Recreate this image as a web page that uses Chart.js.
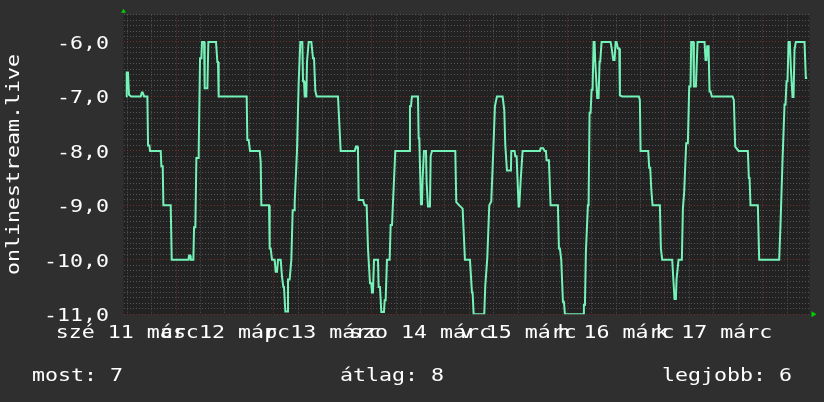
<!DOCTYPE html>
<html lang="hu">
<head>
<meta charset="utf-8">
<title>onlinestream.live</title>
<script src="https://cdn.jsdelivr.net/npm/chart.js@4.4.1/dist/chart.umd.min.js"></script>
<style>
  html, body { margin: 0; padding: 0; background: #2f2f2f; }
  canvas { display: block; }
</style>
</head>
<body>
<canvas id="graph" width="824" height="402"></canvas>
<script>
// Időpontok órában (márc. 11. 00:00-tól számolva)
const hours = [
    11.73, 11.89, 12.2, 12.45, 12.96, 15.33, 15.58, 15.82, 16.15, 16.96, 17.13, 17.45, 17.62,
    20.24, 20.4, 20.73, 20.89, 22.69, 22.94, 27.03, 27.19, 27.44, 27.6, 28.25, 28.42, 28.74,
    28.99, 29.4, 29.56, 29.89, 30.22, 30.38, 30.87, 31.03, 31.69, 31.93, 33.81, 34.14, 34.3,
    34.46, 41.34, 41.5, 41.83, 42.16,
    44.53, 44.78, 44.94, 46.82, 46.99, 47.23, 47.56, 48.21, 48.46, 48.79, 49.03, 49.69, 50.01,
    50.34, 50.5, 50.83, 51.32, 51.48, 51.89, 52.3, 52.63, 52.96, 53.12, 53.69, 54.1, 54.51,
    55.0, 55.17, 55.41, 55.58, 55.98, 56.15, 56.56, 57.21, 57.62, 57.87, 58.19, 58.52, 63.75,
    63.92, 64.41, 67.85, 68.17, 68.5, 68.66, 68.83, 69.89, 70.3, 70.79, 71.12, 71.61, 71.93,
    72.1, 72.34, 72.59, 73.57, 73.73, 74.06, 74.39, 75.04, 75.21, 75.45, 75.78, 76.43, 76.68,
    77.01, 77.82,
    81.26, 81.42, 81.67, 81.91, 83.39, 83.55, 83.71, 84.12, 84.37, 84.53, 84.86, 85.35, 85.51,
    85.84, 86.33, 86.5, 86.82, 92.55, 92.79, 93.53, 94.35, 94.92, 96.15, 96.64, 96.8, 97.05,
    99.66, 99.91, 100.07, 100.4, 100.89, 101.38, 101.87, 102.28, 102.77, 104.16, 104.57,
    104.82, 105.23, 106.21, 106.29, 107.11, 107.27, 107.6, 108.09, 108.25, 108.58, 109.07,
    113.33, 113.49, 114.14, 114.47, 114.8, 114.96, 115.53, 115.94, 117.74, 117.99, 118.23,
    118.56, 118.97, 119.21, 119.46, 123.96, 124.12, 124.37, 124.61, 125.1, 125.27, 125.51,
    125.76, 126.01, 126.25, 126.5, 126.74, 126.9, 127.07, 127.39, 127.72, 127.97, 128.13,
    128.46, 130.67, 130.91, 131.32, 131.65, 131.9, 132.14, 132.47, 132.79, 132.96, 133.53,
    137.62, 137.86, 138.03, 139.91, 140.15, 140.4, 140.65, 140.97, 142.77, 143.02, 143.34,
    145.8, 146.04, 146.2, 146.37, 146.7, 146.86, 147.35, 148.17, 148.42, 148.74, 148.91,
    149.23, 149.64, 149.97, 150.3, 150.46, 150.95, 151.12, 151.61, 152.02, 153.73, 153.98,
    154.22, 154.39, 154.72, 154.96, 155.21, 155.53, 160.61, 160.93, 161.26, 162.08, 164.37,
    164.61, 164.78, 165.02, 166.82, 167.15, 172.06, 172.38, 172.88, 173.37, 173.61, 173.86,
    174.1, 174.35, 174.67, 174.92, 175.33, 175.58, 175.82, 176.15, 178.28, 178.6, 178.93
];

const values = [
    -7.0, -6.56, -6.56, -6.97, -7.0, -7.0, -6.93, -6.93, -7.0, -7.0, -7.9, -7.9, -8.0,
    -8.0, -8.28, -8.28, -9.0, -9.0, -10.0, -10.0, -9.92, -9.92, -10.0, -10.0, -9.4, -9.4,
    -8.13, -8.13, -8.0, -6.3, -6.3, -6.0, -6.0, -6.85, -6.85, -6.0, -6.0, -6.37, -6.37,
    -7.0, -7.0, -7.8, -7.8, -8.0,
    -8.0, -8.2, -9.0, -9.0, -9.79, -9.79, -10.0, -10.0, -10.22, -10.22, -10.0, -10.0, -10.31,
    -10.5, -10.5, -10.95, -10.95, -10.36, -10.36, -10.0, -9.09, -9.09, -8.95, -8.0, -6.75, -6.0,
    -6.0, -6.72, -6.72, -7.0, -7.0, -6.36, -6.0, -6.0, -6.3, -6.3, -6.9, -7.0, -7.0,
    -7.25, -8.0, -8.0, -7.92, -7.92, -8.0, -8.9, -8.9, -9.0, -9.0, -9.8, -10.43, -10.43,
    -10.6, -10.6, -10.0, -10.0, -10.5, -10.5, -10.96, -10.96, -10.74, -10.74, -10.0, -10.0, -9.36,
    -9.36, -8.0,
    -8.0, -7.18, -7.18, -7.0, -7.0, -7.77, -7.77, -8.98, -8.98, -8.5, -8.0, -8.0, -8.58,
    -9.02, -9.02, -8.1, -8.0, -8.0, -8.94, -9.0, -9.06, -10.0, -10.0, -10.6, -10.6, -11.0,
    -11.0, -10.47, -10.47, -9.97, -9.0, -8.93, -8.0, -7.18, -7.0, -7.0, -7.25,
    -7.89, -8.36, -8.36, -8.0, -8.0, -8.1, -8.1, -9.02, -9.02, -8.56, -8.0,
    -8.0, -7.95, -7.95, -8.0, -8.0, -8.17, -8.17, -9.0, -9.0, -9.79, -9.79,
    -10.0, -10.77, -10.77, -11.0, -11.0, -10.83, -10.83, -9.85, -9.0, -9.0, -7.3,
    -7.3, -6.88, -6.88, -6.0, -6.0, -6.36, -6.36, -7.03, -7.03, -6.36, -6.36,
    -6.0, -6.0, -6.1, -6.33, -6.33, -6.0, -6.0, -6.12, -6.12, -6.98, -7.0,
    -7.0, -7.07, -8.0, -8.0, -8.31, -8.31, -8.69, -9.0, -9.0, -9.79, -10.0,
    -10.0, -10.31, -10.31, -10.72, -10.72, -10.36, -10.0, -10.0, -9.06, -8.75, -8.75,
    -7.86, -7.86, -6.82, -6.82, -6.0, -6.0, -6.82, -6.82, -6.0, -6.0, -6.33,
    -6.33, -6.08, -6.08, -6.91, -6.91, -7.0, -7.0, -7.07, -7.92, -8.0, -8.0,
    -8.5, -8.5, -9.0, -9.0, -10.0, -10.0, -9.36, -8.17, -7.15, -7.15, -6.72,
    -6.72, -6.0, -6.0, -6.48, -7.01, -7.01, -6.14, -6.0, -6.0, -6.66, -6.66
];

// Napok feliratai (délre középre igazítva)
const dayLabels = ['szé 11 márc', 'cs 12 márc', 'p 13 márc', 'szo 14 márc', 'v 15 márc', 'h 16 márc', 'k 17 márc'];
const yTicks = [-6, -7, -8, -9, -10, -11];
const yTitle = 'onlinestream.live';
const summary = ['most: 7', 'átlag: 8', 'legjobb: 6'];

const colors = {
    background: '#2f2f2f',
    plot: '#222222',
    line: '#74f2b8',
    gridMinor: 'rgba(90,90,90,0.9)',
    gridMajor: 'rgba(125,48,48,0.9)',
    arrow: '#00d000',
    text: '#ffffff'
};

const FONT = '18px "DejaVu Sans Mono"';
const STRETCH = 1.2; // az rrdtool-kép szélesebb betűi

const isInt = (v) => Math.abs(v - Math.round(v)) < 1e-6;

// Szöveg vízszintesen nyújtva
function drawText(ctx, text, x, y, align, angle) {
    ctx.save();
    ctx.translate(x, y);
    if (angle) ctx.rotate(angle);
    ctx.scale(STRETCH, 1);
    ctx.textAlign = align;
    ctx.textBaseline = 'alphabetic';
    ctx.fillText(text, 0, 0);
    ctx.restore();
}

// Háttér, feliratok és nyilak
const rrdLook = {
    id: 'rrdLook',
    beforeDraw(chart) {
        const { ctx, chartArea: a } = chart;
        ctx.save();
        ctx.fillStyle = colors.background;
        ctx.fillRect(0, 0, chart.width, chart.height);
        ctx.fillStyle = colors.plot;
        ctx.fillRect(a.left, a.top, a.right - a.left, a.bottom - a.top);
        ctx.restore();
    },
    afterDraw(chart) {
        const { ctx, chartArea: a, scales } = chart;
        ctx.save();
        ctx.fillStyle = colors.arrow;
        ctx.beginPath();
        ctx.moveTo(a.left - 2.5, a.top - 2);
        ctx.lineTo(a.left + 2.5, a.top - 2);
        ctx.lineTo(a.left, a.top - 6);
        ctx.closePath();
        ctx.fill();
        ctx.beginPath();
        ctx.moveTo(a.right + 2, a.bottom - 3);
        ctx.lineTo(a.right + 2, a.bottom + 3);
        ctx.lineTo(a.right + 7, a.bottom);
        ctx.closePath();
        ctx.fill();

        ctx.fillStyle = colors.text;
        ctx.font = FONT;

        // y tengely feliratai
        yTicks.forEach((v) => {
            drawText(ctx, v + ',0', a.left - 14.5, scales.y.getPixelForValue(v) + 7, 'right');
        });

        // napok feliratai
        dayLabels.forEach((label, i) => {
            drawText(ctx, label, scales.x.getPixelForValue(12 + i * 24), a.bottom + 23.7, 'center');
        });

        // függőleges tengelycím
        drawText(ctx, yTitle, 18.5, (a.top + a.bottom) / 2, 'center', -Math.PI / 2);

        // összesítő sor
        drawText(ctx, summary[0], 32, 381, 'left');
        drawText(ctx, summary[1], 392, 381, 'center');
        drawText(ctx, summary[2], 792, 381, 'right');
        ctx.restore();
    }
};

new Chart(document.getElementById('graph').getContext('2d'), {
    type: 'line',
    data: {
        datasets: [{
            data: hours.map((h, i) => ({ x: h, y: values[i] })),
            borderColor: colors.line,
            borderWidth: 2,
            pointRadius: 0,
            tension: 0,
            fill: false
        }]
    },
    options: {
        responsive: false,
        animation: false,
        events: [],
        layout: {
            padding: { left: 0, right: 14.5, top: 14.7, bottom: 56.7 }
        },
        plugins: {
            legend: { display: false },
            tooltip: { enabled: false }
        },
        scales: {
            x: {
                type: 'linear',
                min: 11.1,
                max: 179.5,
                afterBuildTicks: (scale) => {
                    const ticks = [];
                    for (let h = 12; h <= 178; h += 6) ticks.push({ value: h });
                    scale.ticks = ticks;
                },
                afterFit: (scale) => { scale.height = 31; },
                ticks: { display: false },
                grid: {
                    drawTicks: false,
                    lineWidth: 1,
                    color: (c) => (c.tick && c.tick.value % 24 === 0 ? colors.gridMajor : colors.gridMinor)
                },
                border: { display: false, dash: [1, 2] }
            },
            y: {
                min: -11,
                max: -5.5,
                afterFit: (scale) => { scale.width = 123.5; },
                ticks: { display: false, stepSize: 0.1, autoSkip: false },
                grid: {
                    drawTicks: false,
                    lineWidth: 1,
                    color: (c) => (c.tick && isInt(c.tick.value) ? colors.gridMajor : colors.gridMinor)
                },
                border: { display: false, dash: [1, 2] }
            }
        }
    },
    plugins: [rrdLook]
});
</script>
</body>
</html>
